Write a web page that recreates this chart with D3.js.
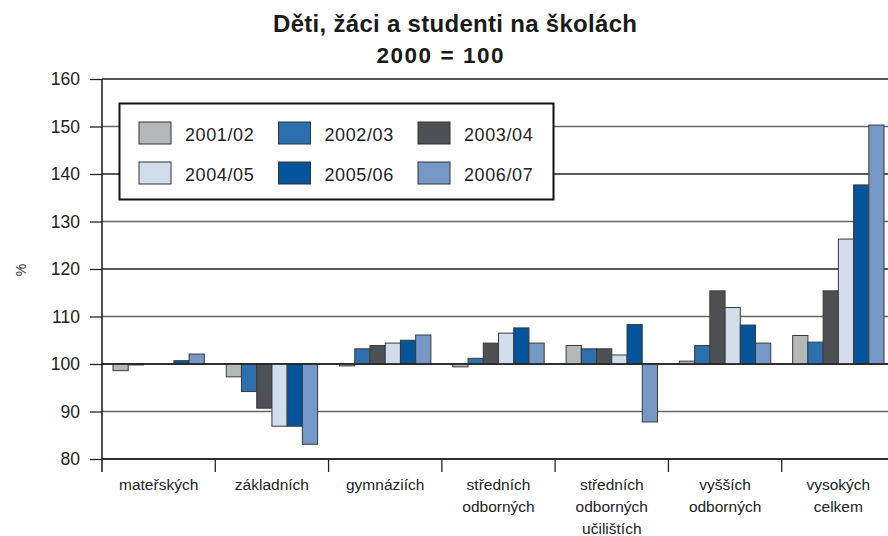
<!DOCTYPE html>
<html><head><meta charset="utf-8">
<script src="https://cdn.jsdelivr.net/npm/d3@7/dist/d3.min.js"></script>
<style>
body{margin:0;background:#fff;}
svg{display:block;font-family:"Liberation Sans",Arial,Helvetica,sans-serif;}
</style></head>
<body><svg id="c" width="888" height="536"></svg>
<script>
const categories = [["mateřských"],["základních"],["gymnáziích"],["středních","odborných"],["středních","odborných","učilištích"],["vyšších","odborných"],["vysokých","celkem"]];
const seriesNames = ["2001/02","2002/03","2003/04","2004/05","2005/06","2006/07"];
const seriesColors = ["#b3b8b9","#2c70b0","#4d5154","#d2ddec","#03549a","#7698c6"];
// values per category, one per series (2000 = 100)
const s2001 = [98.6, 97.3, 99.6, 99.4, 103.9, 100.6, 106.0];
const s2002 = [99.8, 94.2, 103.2, 101.2, 103.2, 103.9, 104.6];
const s2003 = [100.0, 90.7, 103.9, 104.4, 103.2, 115.4, 115.4];
const s2004 = [100.0, 86.9, 104.4, 106.5, 101.9, 111.9, 126.3];
const s2005 = [100.7, 86.9, 105.0, 107.6, 108.3, 108.2, 137.7];
const s2006 = [102.1, 83.1, 106.1, 104.4, 87.8, 104.4, 150.3];
const yTicks = [80,90,100,110,120,130,140,150,160];
const title1 = "Děti, žáci a studenti na školách";
const title2 = "2000 = 100";
const yLabel = "%";

const series = [s2001,s2002,s2003,s2004,s2005,s2006];
const svg = d3.select("#c");
const L = 102, R = 895, T = 79, B = 459;
const x0 = d3.scaleBand().domain(d3.range(categories.length)).range([L,R]).paddingInner(0).paddingOuter(0);
const x1 = d3.scaleBand().domain(d3.range(seriesNames.length)).range([0,x0.bandwidth()]).paddingOuter(0.72).paddingInner(0);
const y = d3.scaleLinear().domain([80,160]).range([B,T]);

// title
svg.append("text").attr("x",455).attr("y",32).attr("text-anchor","middle").attr("font-weight","bold").attr("font-size",24).attr("fill","#1a1a1a")
  .attr("textLength",364).attr("lengthAdjust","spacing").text(title1);
svg.append("text").attr("x",440).attr("y",63).attr("text-anchor","middle").attr("font-weight","bold").attr("font-size",22.5).attr("fill","#1a1a1a")
  .attr("textLength",127).attr("lengthAdjust","spacing").text(title2);

// gridlines
svg.append("g").selectAll("line").data(yTicks).join("line")
  .attr("x1",L).attr("x2",888).attr("y1",d=>y(d)).attr("y2",d=>y(d))
  .attr("stroke",(d,i)=>i%2? "#666":"#222").attr("stroke-width",1.4);

// y axis
const ya = svg.append("g").attr("transform",`translate(${L},0)`).call(d3.axisLeft(y).tickValues(yTicks).tickSize(12).tickPadding(10));
ya.select(".domain").remove();
ya.selectAll(".tick line").attr("stroke","#222").attr("stroke-width",1.3);
ya.selectAll(".tick text").attr("font-size",17.5).attr("fill","#222").attr("font-family","Liberation Sans, Arial, sans-serif");
svg.append("line").attr("x1",L).attr("x2",L).attr("y1",T).attr("y2",472).attr("stroke","#222").attr("stroke-width",1.6);

svg.append("text").attr("transform","translate(26,270) rotate(-90)").attr("text-anchor","middle").attr("font-size",14).attr("fill","#333").text(yLabel);

// bars
const g = svg.append("g");
categories.forEach((c,ci)=>{
  series.forEach((s,si)=>{
    const v = s[ci];
    if (Math.abs(v-100) < 0.05) return;
    g.append("rect")
      .attr("x", x0(ci)+x1(si)).attr("width", x1.bandwidth())
      .attr("y", y(Math.max(v,100))).attr("height", Math.abs(y(v)-y(100)))
      .attr("fill", seriesColors[si]).attr("stroke","#3a3a3a").attr("stroke-width",1);
  });
});
// baseline redraw
svg.append("line").attr("x1",L).attr("x2",888).attr("y1",y(100)).attr("y2",y(100)).attr("stroke","#222").attr("stroke-width",1.4);

// x axis bottom with ticks at group boundaries
svg.append("line").attr("x1",L).attr("x2",888).attr("y1",B).attr("y2",B).attr("stroke","#222").attr("stroke-width",1.6);
const bounds = d3.range(categories.length).map(i=>x0(i)).slice(1);
svg.append("g").selectAll("line").data(bounds).join("line")
  .attr("x1",d=>d).attr("x2",d=>d).attr("y1",B).attr("y2",472).attr("stroke","#222").attr("stroke-width",1.3);

// category labels
const cl = svg.append("g").selectAll("text").data(categories).join("text")
  .attr("text-anchor","middle").attr("font-size",15.5).attr("fill","#222");
cl.each(function(lines,i){
  const t = d3.select(this);
  lines.forEach((ln,k)=>{
    t.append("tspan").attr("x", x0(i)+x0.bandwidth()/2).attr("y", 490 + k*22).text(ln);
  });
});

// legend
const lg = svg.append("g");
lg.append("rect").attr("x",119.5).attr("y",103.5).attr("width",434).attr("height",96).attr("fill","#fff").attr("stroke","#111").attr("stroke-width",2);
seriesNames.forEach((n,i)=>{
  const col = i%3, row = Math.floor(i/3);
  const sx = 139 + col*139.5, sy = 122 + row*40;
  lg.append("rect").attr("x",sx).attr("y",sy).attr("width",32).attr("height",22).attr("fill",seriesColors[i]).attr("stroke","#333").attr("stroke-width",1);
  lg.append("text").attr("x",sx+46).attr("y",sy+18.5).attr("font-size",18).attr("letter-spacing",0.6).attr("fill","#222").text(n);
});
</script></body></html>
